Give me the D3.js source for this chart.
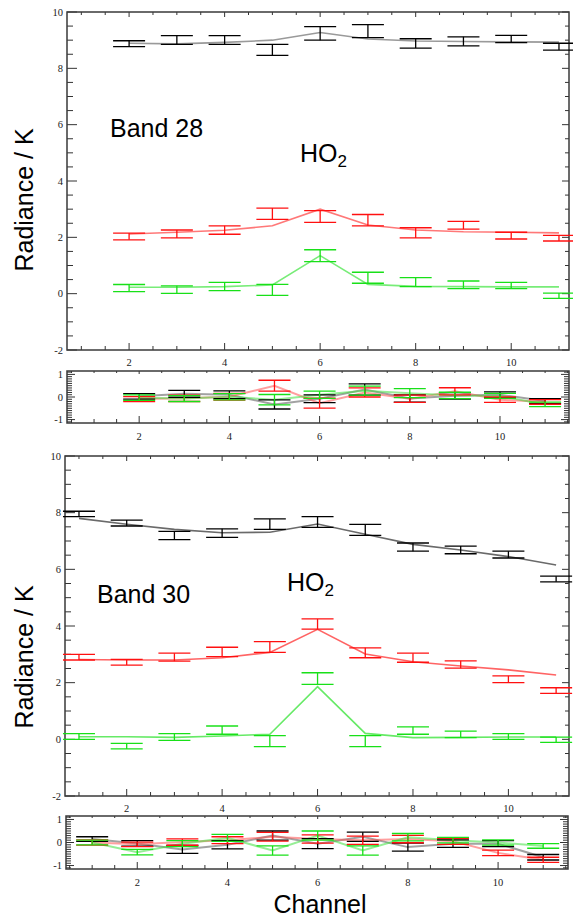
<!DOCTYPE html>
<html>
<head>
<meta charset="utf-8">
<script src="https://cdn.jsdelivr.net/npm/d3@7/dist/d3.min.js"></script>
<style>
  html, body { margin: 0; padding: 0; background: #fff; }
  svg { display: block; }
  .tick-label { font-family: "Liberation Serif", "DejaVu Serif", serif; font-size: 10.5px; fill: #222; }
  .big { font-family: "Liberation Sans", Arial, sans-serif; fill: #000; }
</style>
</head>
<body>
<script>
// ---- Band 28 (channels 2..11) ----
const channels28 = [2, 3, 4, 5, 6, 7, 8, 9, 10, 11];
const b28BlackObs   = [8.875, 9.005, 9.005, 8.655, 9.24, 9.32, 8.885, 8.96, 9.04, 8.77];
const b28BlackErr   = [0.105, 0.155, 0.155, 0.195, 0.24, 0.23, 0.165, 0.16, 0.13, 0.12];
const b28BlackModel = [8.89, 8.87, 8.92, 9.0, 9.27, 9.04, 8.97, 8.95, 8.94, 8.93];
const b28RedObs     = [2.03, 2.12, 2.26, 2.84, 2.74, 2.61, 2.16, 2.43, 2.06, 1.97];
const b28RedErr     = [0.12, 0.14, 0.15, 0.2, 0.21, 0.2, 0.18, 0.14, 0.12, 0.1];
const b28RedModel   = [2.12, 2.18, 2.25, 2.41, 3.0, 2.44, 2.26, 2.2, 2.18, 2.16];
const b28GreenObs   = [0.2, 0.145, 0.255, 0.135, 1.35, 0.565, 0.41, 0.315, 0.29, -0.075];
const b28GreenErr   = [0.125, 0.135, 0.145, 0.195, 0.21, 0.195, 0.16, 0.135, 0.11, 0.095];
const b28GreenModel = [0.23, 0.23, 0.25, 0.31, 1.35, 0.33, 0.26, 0.25, 0.24, 0.24];
// residuals, band 28
const r28Black    = [0.03, 0.14, 0.1, -0.33, -0.08, 0.33, -0.07, 0.05, 0.1, -0.18];
const r28BlackErr = [0.12, 0.15, 0.17, 0.2, 0.17, 0.25, 0.16, 0.14, 0.13, 0.11];
const r28Red      = [-0.09, -0.06, 0.01, 0.5, -0.27, 0.2, -0.08, 0.25, -0.12, -0.22];
const r28RedErr   = [0.11, 0.14, 0.15, 0.24, 0.22, 0.2, 0.16, 0.16, 0.12, 0.1];
const r28Green    = [-0.03, -0.07, 0.01, -0.12, 0.1, 0.28, 0.17, 0.07, 0.05, -0.33];
const r28GreenErr = [0.12, 0.13, 0.14, 0.23, 0.16, 0.2, 0.2, 0.14, 0.11, 0.1];

// ---- Band 30 (channels 1..11) ----
const channels30 = [1, 2, 3, 4, 5, 6, 7, 8, 9, 10, 11];
const b30BlackObs   = [7.955, 7.635, 7.195, 7.28, 7.595, 7.67, 7.395, 6.785, 6.685, 6.52, 5.66];
const b30BlackErr   = [0.095, 0.105, 0.145, 0.15, 0.185, 0.19, 0.195, 0.145, 0.135, 0.12, 0.1];
const b30BlackModel = [7.8, 7.59, 7.41, 7.29, 7.31, 7.6, 7.24, 6.88, 6.68, 6.45, 6.15];
const b30RedObs     = [2.9, 2.72, 2.9, 3.085, 3.26, 4.07, 3.055, 2.88, 2.64, 2.12, 1.72];
const b30RedErr     = [0.1, 0.1, 0.14, 0.165, 0.19, 0.18, 0.175, 0.16, 0.13, 0.12, 0.1];
const b30RedModel   = [2.82, 2.8, 2.8, 2.88, 3.07, 3.88, 3.01, 2.74, 2.59, 2.45, 2.27];
const b30GreenObs   = [0.1, -0.24, 0.08, 0.325, -0.065, 2.145, -0.065, 0.31, 0.175, 0.1, -0.015];
const b30GreenErr   = [0.1, 0.1, 0.12, 0.145, 0.195, 0.205, 0.195, 0.13, 0.115, 0.1, 0.095];
const b30GreenModel = [0.09, 0.09, 0.07, 0.12, 0.18, 1.86, 0.21, 0.06, 0.07, 0.08, 0.08];
// residuals, band 30
const r30Black    = [0.15, -0.04, -0.3, -0.1, 0.3, -0.05, 0.25, -0.2, -0.05, -0.05, -0.64];
const r30BlackErr = [0.1, 0.12, 0.17, 0.18, 0.2, 0.22, 0.2, 0.17, 0.16, 0.13, 0.12];
const r30Red      = [0.0, -0.08, 0.02, 0.1, 0.25, 0.15, 0.1, 0.15, 0.05, -0.45, -0.75];
const r30RedErr   = [0.11, 0.1, 0.14, 0.15, 0.19, 0.18, 0.18, 0.16, 0.13, 0.12, 0.11];
const r30Green    = [0.0, -0.42, -0.05, 0.2, -0.35, 0.3, -0.35, 0.23, 0.1, 0.0, -0.15];
const r30GreenErr = [0.1, 0.12, 0.13, 0.15, 0.2, 0.2, 0.2, 0.16, 0.12, 0.11, 0.1];

// tick labels
const mainYTicks = [-2, 0, 2, 4, 6, 8, 10];
const resYTicks = [-1, 0, 1];
const xTickLabels = [2, 4, 6, 8, 10];

const W = 573, H = 917;
const svg = d3.select("body").append("svg").attr("width", W).attr("height", H);

const COL = {
  black: "#000", red: "#ff1010", green: "#18e018",
  blackLine: "#9a9a9a", redLine: "#ff7878", greenLine: "#78ec78"
};

function panel(cfg) {
  const x = d3.scaleLinear().domain(cfg.xDomain).range([cfg.left, cfg.right]);
  const y = d3.scaleLinear().domain(cfg.yDomain).range([cfg.bottom, cfg.top]);
  const g = svg.append("g");

  // ticks on all four sides, pointing inward
  const tk = g.append("g").attr("stroke", "#333").attr("stroke-width", 1);
  const xt = d3.range(Math.ceil(cfg.xDomain[0] * 2) / 2, cfg.xDomain[1] + 1e-9, 0.5);
  xt.forEach(v => {
    const major = Math.abs(v % 2) < 1e-9;
    const lb = major ? cfg.xMajorLen : cfg.xMinorLen;
    const lt = major ? cfg.xTopMajor : cfg.xTopMinor;
    tk.append("line").attr("x1", x(v)).attr("x2", x(v)).attr("y1", cfg.bottom).attr("y2", cfg.bottom - lb);
    tk.append("line").attr("x1", x(v)).attr("x2", x(v)).attr("y1", cfg.top).attr("y2", cfg.top + lt);
  });
  const yt = d3.range(Math.ceil(cfg.yDomain[0] / cfg.yMinor) * cfg.yMinor, cfg.yDomain[1] + 1e-9, cfg.yMinor);
  yt.forEach(v => {
    const r = v / cfg.yMajor;
    const major = Math.abs(r - Math.round(r)) < 1e-6;
    const ll = major ? cfg.yMajorLen : cfg.yMinorLen;
    const lr = major ? cfg.yRMajorLen : cfg.yRMinorLen;
    tk.append("line").attr("x1", cfg.left).attr("x2", cfg.left + ll).attr("y1", y(v)).attr("y2", y(v));
    tk.append("line").attr("x1", cfg.right).attr("x2", cfg.right - lr).attr("y1", y(v)).attr("y2", y(v));
  });

  // frame
  g.append("rect").attr("x", cfg.left).attr("y", cfg.top)
    .attr("width", cfg.right - cfg.left).attr("height", cfg.bottom - cfg.top)
    .attr("fill", "none").attr("stroke", "#3a3a3a").attr("stroke-width", 1.5);

  // tick labels
  xTickLabels.forEach(v => {
    g.append("text").attr("class", "tick-label").attr("x", x(v)).attr("y", cfg.xLabelY)
      .attr("text-anchor", "middle").attr("dominant-baseline", "central").text(v);
  });
  cfg.yLabels.forEach(v => {
    g.append("text").attr("class", "tick-label").attr("x", cfg.left - 4).attr("y", y(v))
      .attr("text-anchor", "end").attr("dominant-baseline", "central").text(v);
  });

  // model / residual lines, then error bars on top
  const line = d3.line().x(d => x(d[0])).y(d => y(d[1]));
  cfg.series.forEach(s => {
    g.append("path").datum(s.xs.map((c, i) => [c, s.line[i]]))
      .attr("d", line).attr("fill", "none").attr("stroke", s.lineColor)
      .attr("stroke-width", cfg.lineWidth).attr("stroke-opacity", cfg.lineOpacity);
  });
  cfg.series.forEach(s => {
    const eg = g.append("g").attr("stroke", s.barColor).attr("stroke-width", 1.3);
    s.xs.forEach((c, i) => {
      const lo = y(s.obs[i] - s.err[i]), hi = y(s.obs[i] + s.err[i]), cx = x(c);
      eg.append("line").attr("x1", cx).attr("x2", cx).attr("y1", lo).attr("y2", hi);
      eg.append("line").attr("x1", cx - 16).attr("x2", cx + 16).attr("y1", lo).attr("y2", lo);
      eg.append("line").attr("x1", cx - 16).attr("x2", cx + 16).attr("y1", hi).attr("y2", hi);
    });
  });
  return { x, y };
}

const mainTicks = { xMajorLen: 7, xMinorLen: 4, xTopMajor: 5, xTopMinor: 3,
  yMajor: 2, yMinor: 0.5, yMajorLen: 10, yMinorLen: 6, yRMajorLen: 7, yRMinorLen: 4,
  yLabels: mainYTicks, lineWidth: 1.6, lineOpacity: 1 };
const resTicks = { xMajorLen: 7, xMinorLen: 4, xTopMajor: 3, xTopMinor: 2,
  yMajor: 1, yMinor: 0.1, yMajorLen: 8, yMinorLen: 5, yRMajorLen: 8, yRMinorLen: 5,
  yLabels: resYTicks, lineWidth: 2, lineOpacity: 0.55 };

// Band 28 main
panel(Object.assign({}, mainTicks, {
  left: 67, right: 569, top: 12, bottom: 350, xDomain: [0.7, 11.21], yDomain: [-2, 10], xLabelY: 362,
  series: [
    { xs: channels28, obs: b28BlackObs, err: b28BlackErr, line: b28BlackModel, barColor: COL.black, lineColor: COL.blackLine },
    { xs: channels28, obs: b28RedObs, err: b28RedErr, line: b28RedModel, barColor: COL.red, lineColor: COL.redLine },
    { xs: channels28, obs: b28GreenObs, err: b28GreenErr, line: b28GreenModel, barColor: COL.green, lineColor: COL.greenLine }
  ]
}));

// Band 28 residuals
panel(Object.assign({}, resTicks, {
  left: 67, right: 569, top: 371, bottom: 423, xDomain: [0.4, 11.53], yDomain: [-1.15, 1.15], xLabelY: 436,
  series: [
    { xs: channels28, obs: r28Black, err: r28BlackErr, line: r28Black, barColor: COL.black, lineColor: "#555" },
    { xs: channels28, obs: r28Red, err: r28RedErr, line: r28Red, barColor: COL.red, lineColor: "#ff5050" },
    { xs: channels28, obs: r28Green, err: r28GreenErr, line: r28Green, barColor: COL.green, lineColor: "#40e040" }
  ]
}));

// Band 30 main
panel(Object.assign({}, mainTicks, {
  left: 65, right: 569, top: 456, bottom: 796, xDomain: [0.707, 11.27], yDomain: [-2, 10], xLabelY: 808,
  series: [
    { xs: channels30, obs: b30BlackObs, err: b30BlackErr, line: b30BlackModel, barColor: COL.black, lineColor: "#6a6a6a" },
    { xs: channels30, obs: b30RedObs, err: b30RedErr, line: b30RedModel, barColor: COL.red, lineColor: "#ff6464" },
    { xs: channels30, obs: b30GreenObs, err: b30GreenErr, line: b30GreenModel, barColor: COL.green, lineColor: "#66ea66" }
  ]
}));

// Band 30 residuals
panel(Object.assign({}, resTicks, {
  left: 66, right: 568, top: 816, bottom: 869, xDomain: [0.42, 11.55], yDomain: [-1.15, 1.15], xLabelY: 882,
  series: [
    { xs: channels30, obs: r30Black, err: r30BlackErr, line: r30Black, barColor: COL.black, lineColor: "#555" },
    { xs: channels30, obs: r30Red, err: r30RedErr, line: r30Red, barColor: COL.red, lineColor: "#ff5050" },
    { xs: channels30, obs: r30Green, err: r30GreenErr, line: r30Green, barColor: COL.green, lineColor: "#40e040" }
  ]
}));

// axis titles and annotations
function yTitle(cx, cy) {
  svg.append("text").attr("class", "big").attr("font-size", 25)
    .attr("transform", `translate(${cx},${cy}) rotate(-90)`)
    .attr("text-anchor", "middle").text("Radiance / K");
}
yTitle(33, 200);
yTitle(33, 657);

function label(x, y, t) {
  svg.append("text").attr("class", "big").attr("font-size", 25).attr("x", x).attr("y", y).text(t);
}
function ho2(x, y) {
  const t = svg.append("text").attr("class", "big").attr("font-size", 25).attr("x", x).attr("y", y);
  t.append("tspan").text("HO");
  t.append("tspan").attr("font-size", 17).attr("dy", 4.5).text("2");
}
label(110, 137, "Band 28");
ho2(300, 162);
label(97, 603, "Band 30");
ho2(287, 591);

svg.append("text").attr("class", "big").attr("font-size", 25)
  .attr("x", 320).attr("y", 913).attr("text-anchor", "middle").text("Channel");
</script>
</body>
</html>
